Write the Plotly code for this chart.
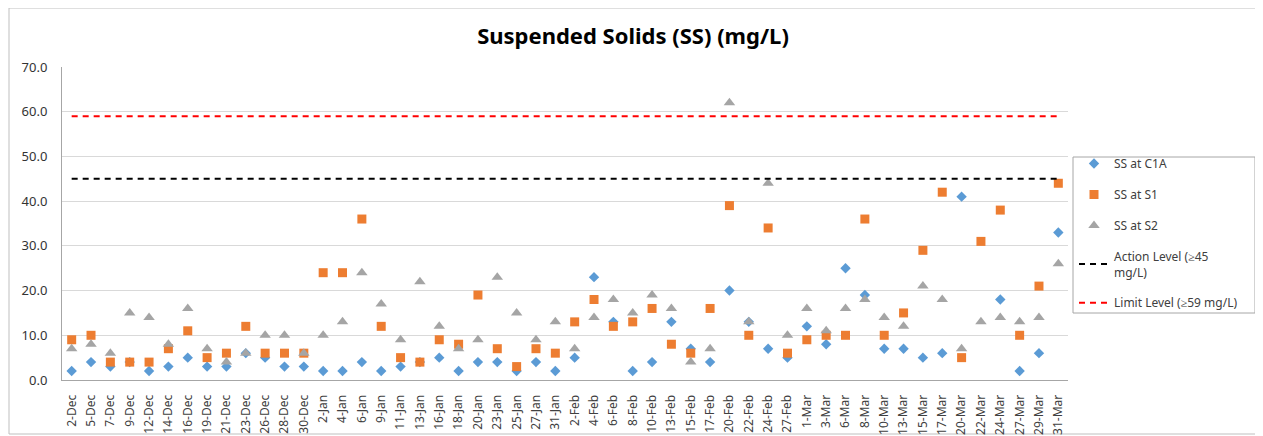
import plotly.graph_objects as go

dates = ["2-Dec","5-Dec","7-Dec","9-Dec","12-Dec","14-Dec","16-Dec","19-Dec","21-Dec","23-Dec",
         "26-Dec","28-Dec","30-Dec","2-Jan","4-Jan","6-Jan","9-Jan","11-Jan","13-Jan","16-Jan",
         "18-Jan","20-Jan","23-Jan","25-Jan","27-Jan","31-Jan","2-Feb","4-Feb","6-Feb","8-Feb",
         "10-Feb","13-Feb","15-Feb","17-Feb","20-Feb","22-Feb","24-Feb","27-Feb","1-Mar","3-Mar",
         "6-Mar","8-Mar","10-Mar","13-Mar","15-Mar","17-Mar","20-Mar","22-Mar","24-Mar","27-Mar",
         "29-Mar","31-Mar"]

ss_c1a = [2,4,3,4,2,3,5,3,3,6,
          5,3,3,2,2,4,2,3,4,5,
          2,4,4,2,4,2,5,23,13,2,
          4,13,7,4,20,13,7,5,12,8,
          25,19,7,7,5,6,41,None,18,2,
          6,33]
ss_s1 = [9,10,4,4,4,7,11,5,6,12,
         6,6,6,24,24,36,12,5,4,9,
         8,19,7,3,7,6,13,18,12,13,
         16,8,6,16,39,10,34,6,9,10,
         10,36,10,15,29,42,5,31,38,10,
         21,44]
ss_s2 = [7,8,6,15,14,8,16,7,4,6,
         10,10,6,10,13,24,17,9,22,12,
         7,9,23,15,9,13,7,14,18,15,
         19,16,4,7,62,13,44,10,16,11,
         16,18,14,12,21,18,7,13,14,13,
         14,26]
action_level = 45
limit_level = 59

font = "Noto Sans"
fig = go.Figure()
fig.add_trace(go.Scatter(x=dates, y=ss_c1a, mode="markers", name="SS at C1A",
                         legendgroup="a",
                         marker=dict(symbol="diamond", size=8, color="#5B9BD5")))
fig.add_trace(go.Scatter(x=dates, y=ss_s1, mode="markers", name="SS at S1",
                         legendgroup="b",
                         marker=dict(symbol="square", size=9, color="#ED7D31")))
fig.add_trace(go.Scatter(x=dates, y=ss_s2, mode="markers", name="SS at S2",
                         legendgroup="c",
                         marker=dict(symbol="triangle-up", size=10, color="#A5A5A5")))
fig.add_trace(go.Scatter(x=dates, y=[action_level]*len(dates), mode="lines",
                         name="Action Level (≥45<br>mg/L)", legendgroup="d",
                         line=dict(color="black", width=2, dash="6px,5px")))
fig.add_trace(go.Scatter(x=dates, y=[limit_level]*len(dates), mode="lines",
                         name="Limit Level (≥59 mg/L)", legendgroup="e",
                         line=dict(color="#FF0000", width=2, dash="6px,5px")))

# page body has an 8px margin: figure origin sits at screen (8, 8)
OFF = 8
W, H = 1263 - OFF, 436 - OFF
L = 62 - OFF
T = 67 - OFF
R = W - (1068 - OFF)
B = H - (380 - OFF)
pw, ph = W - L - R, H - T - B

def px(x):  # screen x -> paper
    return (x - OFF - L) / pw

def py(y):  # screen y -> paper
    return (H - B - (y - OFF)) / ph

fig.update_layout(
    width=W, height=H,
    margin=dict(l=L, r=R, t=T, b=B, autoexpand=False),
    paper_bgcolor="white", plot_bgcolor="white",
    font=dict(family=font, size=12, color="#404040"),
    title=dict(text="<b>Suspended Solids (SS) (mg/L)</b>", x=(633 - OFF) / W, xref="container",
               xanchor="center", y=1 - (36 - OFF) / H, yref="container", yanchor="middle",
               font=dict(family=font, size=22, color="black")),
    showlegend=True,
    legend=dict(x=px(1074), xanchor="left", y=py(149), yanchor="top",
                borderwidth=0, bgcolor="rgba(0,0,0,0)",
                font=dict(family=font, size=12, color="#404040"),
                tracegroupgap=12, itemwidth=30),
    xaxis=dict(type="category", tickangle=-90, showgrid=False, automargin=False,
               showline=True, linecolor="#A6A6A6", linewidth=1,
               ticks="", ticklabelstandoff=9,
               tickfont=dict(size=12, color="#404040"),
               range=[-0.5, len(dates) - 0.5]),
    yaxis=dict(range=[0, 70], dtick=10, tickformat=".1f", automargin=False,
               showgrid=True, gridcolor="#D9D9D9", gridwidth=1,
               showline=True, linecolor="#A6A6A6", linewidth=1,
               ticks="outside", ticklen=11, tickcolor="rgba(0,0,0,0)",
               zeroline=False, tickfont=dict(size=13, color="#333333")),
    shapes=[dict(type="rect", xref="paper", yref="paper",
                 x0=px(9), x1=px(1261), y0=py(434), y1=py(OFF),
                 line=dict(color="#BFBFBF", width=1), fillcolor="rgba(0,0,0,0)",
                 layer="below"),
            dict(type="rect", xref="paper", yref="paper",
                 x0=px(1073), x1=px(1255), y0=py(313), y1=py(157),
                 line=dict(color="#A6A6A6", width=1), fillcolor="white",
                 layer="below")],
)

fig.write_html("out.html")
